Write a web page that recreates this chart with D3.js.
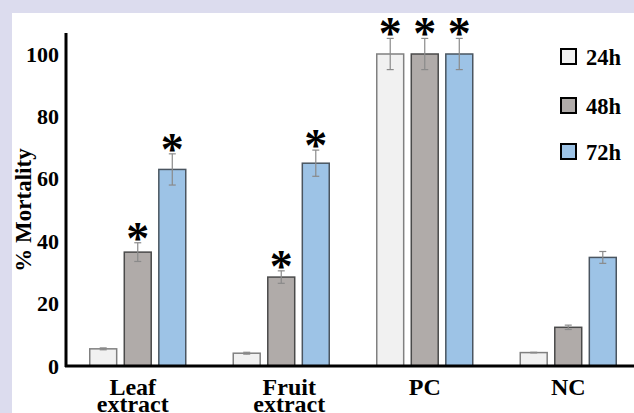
<!DOCTYPE html>
<html><head><meta charset="utf-8">
<script src="https://cdn.jsdelivr.net/npm/d3@7"></script>
<style>
html,body{margin:0;padding:0;background:#dcdcee;}
svg{display:block;}
text{font-family:"Liberation Serif","Times New Roman",serif;font-weight:bold;}
</style></head>
<body>
<svg id="c" width="634" height="413"></svg>
<script>
const categories = ["Leaf extract", "Fruit extract", "PC", "NC"];
const series = ["24h", "48h", "72h"];
const values = {
  "24h": [5.5, 4.1, 100, 4.3],
  "48h": [36.5, 28.5, 100, 12.4],
  "72h": [63.0, 65.0, 100, 34.8]
};
const errors = {
  "24h": [0.3, 0.3, 5, 0.1],
  "48h": [3, 2, 5, 0.7],
  "72h": [5, 4.2, 5, 1.9]
};
const significant = {
  "24h": [false, false, true, false],
  "48h": [true, true, true, false],
  "72h": [true, true, true, false]
};
const yTicks = [0, 20, 40, 60, 80, 100];
const colors = {"24h": "#f1f1f1", "48h": "#b0aba9", "72h": "#9dc3e6"};
const strokes = {"24h": "#808080", "48h": "#4a4a4a", "72h": "#4a5560"};

const svg = d3.select("#c");
svg.append("rect").attr("x", 12).attr("y", 13).attr("width", 634 - 12).attr("height", 413 - 13).attr("fill", "#fff");

const x0 = d3.scaleBand().domain(categories).range([66, 640]).paddingInner(0).paddingOuter(0);
const x1 = d3.scaleBand().domain(series).range([-48, 48]).paddingInner(0.22).paddingOuter(0);
const y = d3.scaleLinear().domain([0, 100]).range([366, 54]);

// bars
const g = svg.append("g");
series.forEach(s => {
  categories.forEach((c, i) => {
    const cx = x0(c) + x0.bandwidth() / 2;
    const bx = cx + x1(s);
    const w = x1.bandwidth();
    g.append("rect").attr("x", bx).attr("y", y(values[s][i])).attr("width", w)
      .attr("height", y(0) - y(values[s][i])).attr("fill", colors[s])
      .attr("stroke", strokes[s]).attr("stroke-width", 1.5);
    const mx = bx + w / 2;
    const e = errors[s][i];
    const v = values[s][i];
    const eg = g.append("g").attr("stroke", "#8a8a8a").attr("stroke-width", 1.2);
    eg.append("line").attr("x1", mx).attr("x2", mx).attr("y1", y(v + e)).attr("y2", y(v - e));
    eg.append("line").attr("x1", mx - 3.5).attr("x2", mx + 3.5).attr("y1", y(v + e)).attr("y2", y(v + e));
    eg.append("line").attr("x1", mx - 3.5).attr("x2", mx + 3.5).attr("y1", y(v - e)).attr("y2", y(v - e));
    if (significant[s][i]) {
      g.append("text").attr("x", mx).attr("y", y(v + e) + 11).attr("text-anchor", "middle")
        .attr("font-size", 46).attr("fill", "#000").text("*");
    }
  });
});

// axes
const yAxis = d3.axisLeft(y).tickValues(yTicks).tickSize(0).tickPadding(7);
const ya = svg.append("g").attr("transform", "translate(66,0)").call(yAxis);
ya.select(".domain").remove();
ya.selectAll("text").attr("font-size", 22).attr("fill", "#000")
  .style("font-family", '"Liberation Serif",serif').style("font-weight", "bold");
svg.append("line").attr("x1", 66).attr("x2", 66).attr("y1", 33).attr("y2", 367).attr("stroke", "#000").attr("stroke-width", 3);
svg.append("line").attr("x1", 65).attr("x2", 634).attr("y1", 366).attr("y2", 366).attr("stroke", "#000").attr("stroke-width", 3);

// x labels
const labelDx = {"Leaf extract": -5, "Fruit extract": 8, "PC": 0, "NC": 0};
categories.forEach(c => {
  const cx = x0(c) + x0.bandwidth() / 2 + labelDx[c];
  const parts = c.split(" ");
  const t = svg.append("text").attr("text-anchor", "middle").attr("font-size", 24).attr("fill", "#000");
  parts.forEach((p, k) => {
    t.append("tspan").attr("x", cx).attr("y", 395 + k * 17).text(p);
  });
});

// y title
svg.append("text").attr("transform", "translate(31,210) rotate(-90)").attr("text-anchor", "middle")
  .attr("font-size", 23).attr("fill", "#000").text("% Mortality");

// legend
const legY = [57, 106, 152];
series.forEach((s, i) => {
  svg.append("rect").attr("x", 561).attr("y", legY[i] - 8).attr("width", 15).attr("height", 15)
    .attr("fill", colors[s]).attr("stroke", "#000").attr("stroke-width", 2);
  svg.append("text").attr("x", 586).attr("y", legY[i] + 8).attr("font-size", 22.5).attr("fill", "#000").text(s);
});
</script>
</body></html>
